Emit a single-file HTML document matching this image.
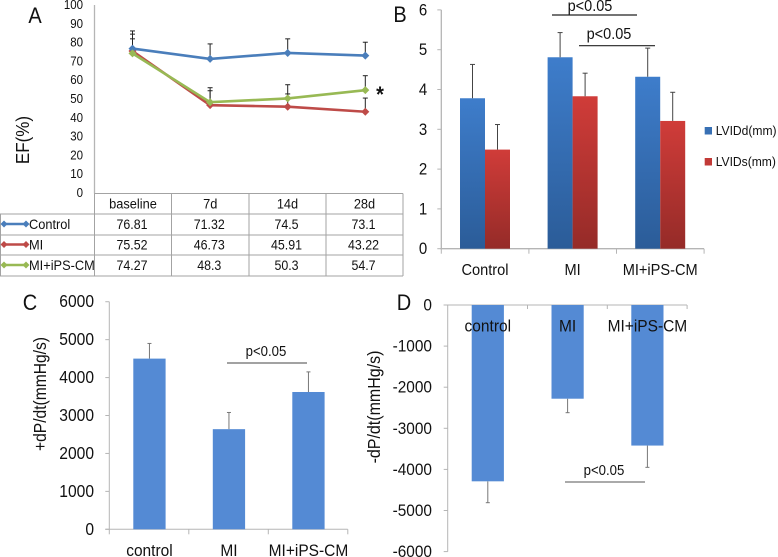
<!DOCTYPE html>
<html><head><meta charset="utf-8">
<style>
html,body{margin:0;padding:0;background:#fff;width:778px;height:557px;overflow:hidden}
svg{display:block;font-family:"Liberation Sans",sans-serif;filter:blur(0.35px)}
text{fill:#111}
</style></head>
<body>
<svg id="fig" width="778" height="557" viewBox="0 0 778 557" xmlns="http://www.w3.org/2000/svg">
<defs>
<linearGradient id="gBlue" x1="0" y1="0" x2="0" y2="1"><stop offset="0" stop-color="#3e7dcb"/><stop offset="1" stop-color="#2b5c98"/></linearGradient>
<linearGradient id="gRed" x1="0" y1="0" x2="0" y2="1"><stop offset="0" stop-color="#d03c39"/><stop offset="1" stop-color="#952b28"/></linearGradient>
</defs>
</svg>
<script>
// Panel A
const aCategories = ['baseline', '7d', '14d', '28d'];
const aSeriesNames = ['Control', 'MI', 'MI+iPS-CM'];
const aControl = [76.81, 71.32, 74.5, 73.1];
const aMI = [75.52, 46.73, 45.91, 43.22];
const aIPS = [74.27, 48.3, 50.3, 54.7];
const aControlErrTop = [86.2, 79.3, 82, 80.2];
const aMIErrTop = [84.5, 54.4, 52.7, 50.5];
const aIPSErrTop = [82, 56, 57.6, 62.4];
const aTicks = [0, 10, 20, 30, 40, 50, 60, 70, 80, 90, 100];
// Panel B
const bCategories = ['Control', 'MI', 'MI+iPS-CM'];
const bSeriesNames = ['LVIDd(mm)', 'LVIDs(mm)'];
const bLVIDd = [3.78, 4.81, 4.32];
const bLVIDs = [2.49, 3.83, 3.21];
const bLVIDdErrTop = [4.63, 5.43, 5.04];
const bLVIDsErrTop = [3.12, 4.41, 3.93];
const bTicks = [0, 1, 2, 3, 4, 5, 6];
// Panel C
const cCategories = ['control', 'MI', 'MI+iPS-CM'];
const cValues = [4500, 2640, 3620];
const cErrTop = [4900, 3080, 4150];
const cTicks = [0, 1000, 2000, 3000, 4000, 5000, 6000];
// Panel D
const dCategories = ['control', 'MI', 'MI+iPS-CM'];
const dValues = [-4290, -2280, -3420];
const dErrEnd = [-4810, -2620, -3950];
const dTicks = [0, -1000, -2000, -3000, -4000, -5000, -6000];

const svg = document.getElementById('fig');
const NS = 'http://www.w3.org/2000/svg';
function mk(tag, props, parent) {
  const el = document.createElementNS(NS, tag);
  for (const k in props) el.setAttribute(k, props[k]);
  (parent || svg).appendChild(el);
  return el;
}
// Text is enlarged and condensed to approximate the narrower face of the reference.
function txt(s, x, y, size, anchor, parent) {
  const el = mk('text', {x: x, y: y, 'font-size': size * 1.1, 'text-anchor': anchor || 'middle'}, parent);
  el.textContent = s;
  const w = el.getComputedTextLength();
  if (w > 0) {
    el.setAttribute('textLength', (w / 1.1).toFixed(2));
    el.setAttribute('lengthAdjust', 'spacingAndGlyphs');
  }
  return el;
}
function grp(parent) { return mk('g', {}, parent); }
const AXIS = '#b5b5b5', GRID = '#a3a3a3';

/* ---------- Panel A ---------- */
const aX = i => 132.5 + i * 77.6;
const aY = v => 193 - v * 1.88;
const aColors = ['#4a7ebb', '#be4b48', '#98b954'];
const aSeries = [aControl, aMI, aIPS];
const aErrs = [aControlErrTop, aMIErrTop, aIPSErrTop];
const aColX = [94.5, 171.5, 249, 326, 403];
const aRowY = [193.5, 214, 235, 255, 276];

let el = txt('A', 35, 23, 20);


el = mk('line', {x1: 94.5, y1: 5, x2: 94.5, y2: 193.5, stroke: AXIS, 'stroke-width': 1.3});


el = txt('EF(%)', 0, 0, 17);
el.setAttribute('transform', 'translate(29,140) rotate(-90)');


aTicks.forEach(t => {
  const l = txt(t, 83, aY(t) + 4, 11.5, 'end');
  
  
});
aSeries.forEach((vals, s) => {
  const g = grp();
  
  
  vals.forEach((v, i) => {
    mk('line', {x1: aX(i), x2: aX(i), y1: aY(v), y2: aY(aErrs[s][i]), stroke: '#222', 'stroke-width': 1}, g);
    mk('line', {x1: aX(i) - 2.5, x2: aX(i) + 2.5, y1: aY(aErrs[s][i]), y2: aY(aErrs[s][i]), stroke: '#222', 'stroke-width': 1}, g);
  });
});
function diamond(x, y, r, c, parent) {
  return mk('polygon', {points: [[x - r, y], [x, y - r], [x + r, y], [x, y + r]].map(p => p.join(',')).join(' '), fill: c}, parent);
}
[1, 0, 2].forEach(s => {
  const g = grp();
  
  
  mk('polyline', {points: aSeries[s].map((v, i) => aX(i) + ',' + aY(v)).join(' '), fill: 'none', stroke: aColors[s], 'stroke-width': 2.6}, g);
  aSeries[s].forEach((v, i) => diamond(aX(i), aY(v), 4, aColors[s], g));
});
el = txt('*', 380, 102, 20);
el.setAttribute('font-weight', 'bold');



const tbl = grp();


aRowY.forEach((y, r) => mk('line', {x1: r === 0 ? aColX[0] : 0, x2: aColX[4], y1: y, y2: y, stroke: GRID, 'stroke-width': 1}, tbl));
aColX.forEach(x => mk('line', {x1: x, x2: x, y1: aRowY[0], y2: aRowY[4], stroke: GRID, 'stroke-width': 1}, tbl));
mk('line', {x1: 0.5, x2: 0.5, y1: aRowY[1], y2: aRowY[4], stroke: GRID, 'stroke-width': 1}, tbl);
aCategories.forEach((c, i) => txt(c, (aColX[i] + aColX[i + 1]) / 2 , 208.5, 12.8, 'middle', tbl));
aSeries.forEach((vals, s) => {
  const cy = (aRowY[s + 1] + aRowY[s + 2]) / 2;
  mk('line', {x1: 4, x2: 26, y1: cy - 0.5, y2: cy - 0.5, stroke: aColors[s], 'stroke-width': 2.4}, tbl);
  diamond(4, cy - 0.5, 3.5, aColors[s], tbl);
  diamond(26, cy - 0.5, 3.5, aColors[s], tbl);
  txt(aSeriesNames[s], 29, cy + 4.5, 12.8, 'start', tbl);
  vals.forEach((v, i) => txt(v, (aColX[i] + aColX[i + 1]) / 2 - 1, cy + 4.5, 12.4, 'middle', tbl));
});

/* ---------- Panel B ---------- */
const bY = v => 248.7 - v * 39.8;
const bX0 = 441.3, bStep = 87.6, bOff = 18.7, bW = 25;
el = txt('B', 400, 22, 20);


const bAxes = grp();


mk('line', {x1: bX0, x2: bX0, y1: bY(6), y2: bY(0), stroke: AXIS, 'stroke-width': 1.3}, bAxes);
mk('line', {x1: bX0 - 1, x2: 704, y1: bY(0), y2: bY(0), stroke: AXIS, 'stroke-width': 1.3}, bAxes);
bTicks.forEach(t => {
  mk('line', {x1: bX0 - 4, x2: bX0, y1: bY(t), y2: bY(t), stroke: AXIS, 'stroke-width': 1}, bAxes);
  const l = txt(t, 423, bY(t) + 5.5, 15);
  
  
});
[0, 1, 2, 3].forEach(i => mk('line', {x1: bX0 + i * bStep, x2: bX0 + i * bStep, y1: bY(0), y2: bY(0) + 5, stroke: AXIS, 'stroke-width': 1}, bAxes));
function bar(x, top, bottom, w, fill, name) {
  const r = mk('rect', {x: x, y: Math.min(top, bottom), width: w, height: Math.abs(bottom - top), fill: fill});
  
  
  return r;
}
function err(x, y1, y2, cap, color, name) {
  const g = grp();
  
  
  mk('line', {x1: x, x2: x, y1: y1, y2: y2, stroke: color, 'stroke-width': 1}, g);
  mk('line', {x1: x - cap, x2: x + cap, y1: y2, y2: y2, stroke: color, 'stroke-width': 1}, g);
}
bCategories.forEach((c, i) => {
  const x = bX0 + bOff + i * bStep;
  bar(x, bY(bLVIDd[i]), bY(0), bW, 'url(#gBlue)', 'bar-lvidd-' + i);
  bar(x + bW, bY(bLVIDs[i]), bY(0), bW, 'url(#gRed)', 'bar-lvids-' + i);
  err(x + bW / 2, bY(bLVIDd[i]), bY(bLVIDdErrTop[i]), 2.5, '#444', 'error-lvidd-' + i);
  err(x + bW * 1.5, bY(bLVIDs[i]), bY(bLVIDsErrTop[i]), 2.5, '#444', 'error-lvids-' + i);
  const l = txt(c, x + bW, 275, 14.6);
  
  
});
el = mk('line', {x1: 552, x2: 637, y1: 15, y2: 15, stroke: '#222', 'stroke-width': 1.2});


el = txt('p<0.05', 590, 11, 14.5);


el = mk('line', {x1: 579, x2: 655, y1: 45.7, y2: 45.7, stroke: '#222', 'stroke-width': 1.2});


el = txt('p<0.05', 609, 39, 14.5);


bSeriesNames.forEach((n, i) => {
  const g = grp();
  
  
  const y = 127 + i * 31;
  mk('rect', {x: 704.7, y: y, width: 7.3, height: 7.5, fill: i ? '#c23a37' : '#3870b4'}, g);
  txt(n, 715.7, y + 8, 12.1, 'start', g);
});

/* ---------- Panel C ---------- */
const cY = v => 529.3 - v * 0.03793;
const cX0 = 109.3, cStep = 79.5, cOff = 24, cW = 32.3;
el = txt('C', 30, 310, 20);


const cAxes = grp();


mk('line', {x1: cX0, x2: cX0, y1: cY(6000), y2: cY(0), stroke: AXIS, 'stroke-width': 1}, cAxes);
mk('line', {x1: cX0 - 4, x2: 347.7, y1: cY(0), y2: cY(0), stroke: AXIS, 'stroke-width': 1}, cAxes);
cTicks.forEach(t => {
  mk('line', {x1: cX0 - 4, x2: cX0, y1: cY(t), y2: cY(t), stroke: AXIS, 'stroke-width': 1}, cAxes);
  const l = txt(t, 94, cY(t) + 5.5, 15.6, 'end');
  
  
});
[0, 1, 2, 3].forEach(i => mk('line', {x1: cX0 + i * cStep, x2: cX0 + i * cStep, y1: cY(0), y2: cY(0) + 5, stroke: AXIS, 'stroke-width': 1}, cAxes));
cCategories.forEach((c, i) => {
  const x = cX0 + cOff + i * cStep;
  err(x + cW / 2, cY(cValues[i]), cY(cErrTop[i]), 2, '#777', 'panel-c-error-' + i);
  bar(x, cY(cValues[i]), cY(0), cW, '#548ad4', 'panel-c-bar-' + i);
  const l = txt(c, x + cW / 2, 556, 15.5);
  
  
});
el = txt('+dP/dt(mmHg/s)', 0, 0, 15.6);
el.setAttribute('transform', 'translate(46,394) rotate(-90)');


el = mk('line', {x1: 227, x2: 307, y1: 363, y2: 363, stroke: '#444', 'stroke-width': 1});


el = txt('p<0.05', 266, 356, 13.2);



/* ---------- Panel D ---------- */
const dY = v => 305 - v * 0.0411;
const dX0 = 447.7, dStep = 79.8, dOff = 24, dW = 32.2;
el = txt('D', 404, 310, 20);


const dAxes = grp();


mk('line', {x1: dX0, x2: dX0, y1: dY(0), y2: dY(-6000), stroke: AXIS, 'stroke-width': 1}, dAxes);
mk('line', {x1: dX0 - 4, x2: 687, y1: dY(0), y2: dY(0), stroke: AXIS, 'stroke-width': 1}, dAxes);
dTicks.forEach(t => {
  mk('line', {x1: dX0 - 4, x2: dX0, y1: dY(t), y2: dY(t), stroke: AXIS, 'stroke-width': 1}, dAxes);
  const l = txt(t, 432, dY(t) + 5.5, 15.4, 'end');
  
  
});
[1, 2, 3].forEach(i => mk('line', {x1: dX0 + i * dStep, x2: dX0 + i * dStep, y1: dY(0) - 0, y2: dY(0) + 4, stroke: AXIS, 'stroke-width': 1}, dAxes));
dCategories.forEach((c, i) => {
  const x = dX0 + dOff + i * dStep;
  err(x + dW / 2, dY(dValues[i]), dY(dErrEnd[i]), 2, '#777', 'panel-d-error-' + i);
  bar(x, dY(0), dY(dValues[i]), dW, '#548ad4', 'panel-d-bar-' + i);
  const l = txt(c, x + dW / 2, 331.5, 15.5);
  
  
});
el = txt('-dP/dt(mmHg/s)', 0, 0, 16);
el.setAttribute('transform', 'translate(380,407) rotate(-90)');


el = mk('line', {x1: 565, x2: 645, y1: 482, y2: 482, stroke: '#555', 'stroke-width': 1});


el = txt('p<0.05', 604, 475, 13.2);


</script>
</body></html>
